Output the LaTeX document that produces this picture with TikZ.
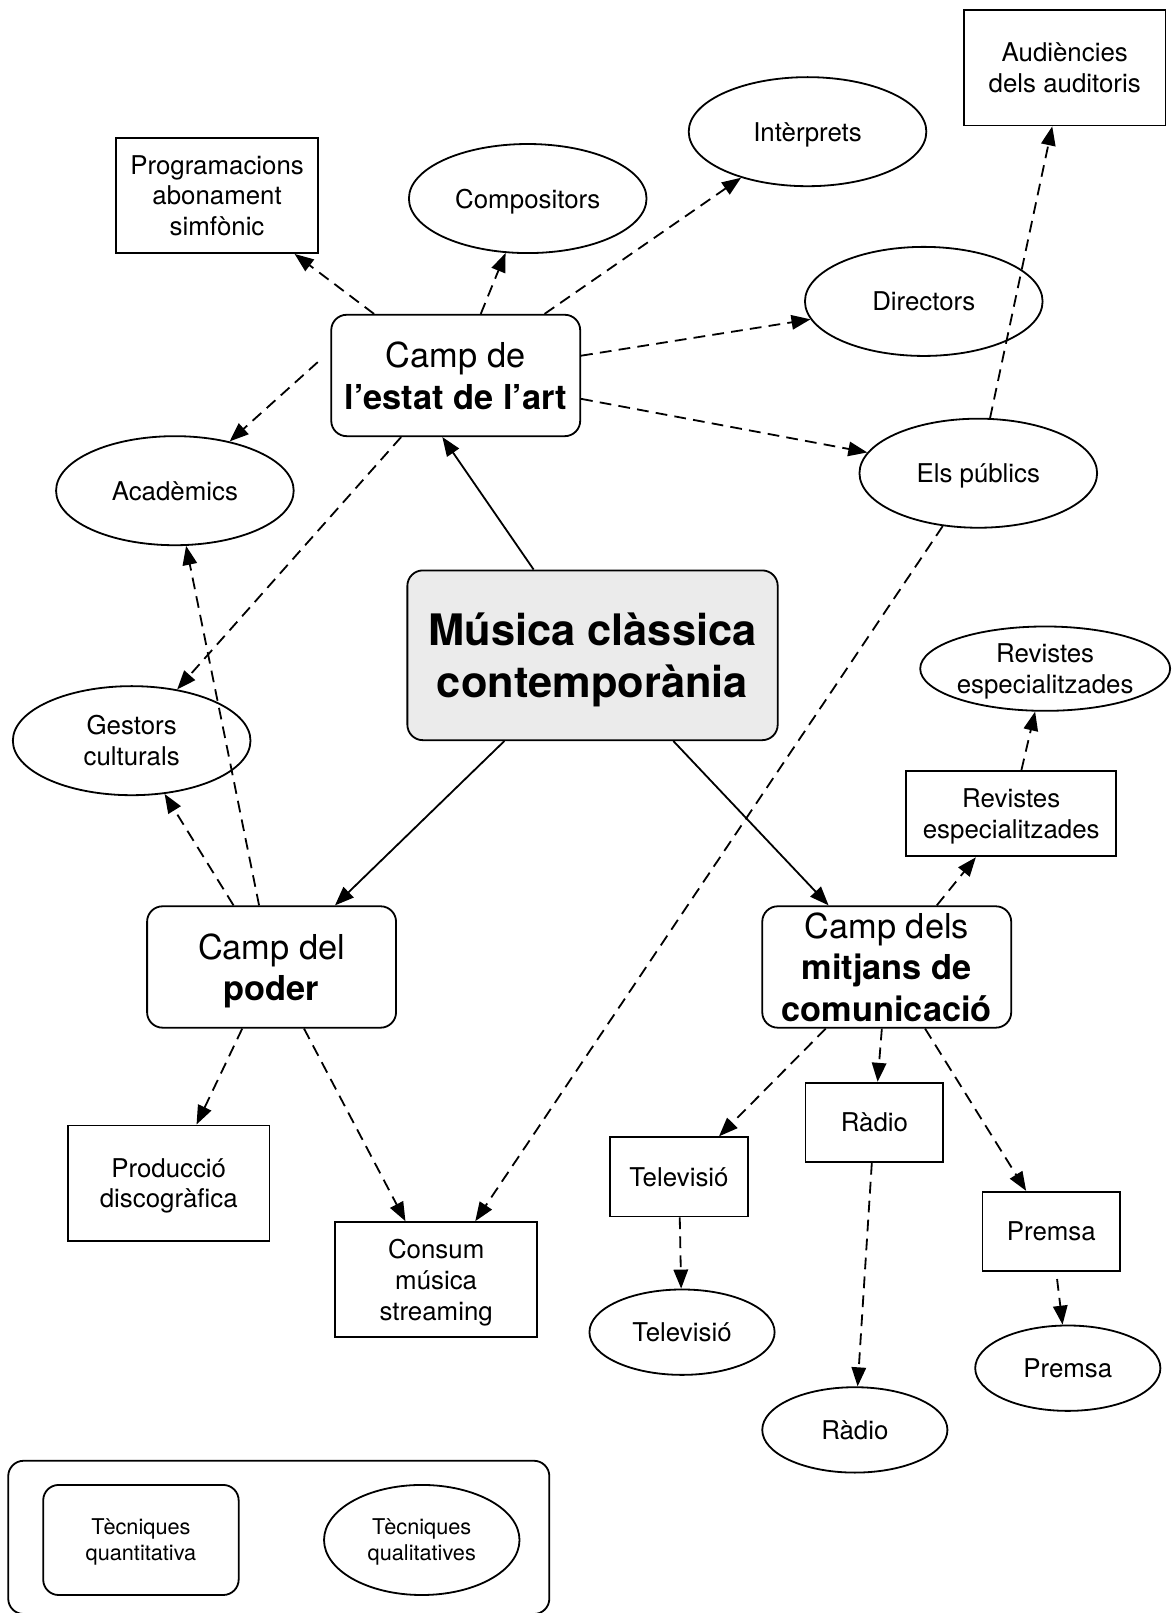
\documentclass[tikz,border=0pt]{standalone}
\usepackage{fontspec}
\setmainfont{TeX Gyre Heros}
\usepackage{tikz}
\usetikzlibrary{arrows.meta}
\usetikzlibrary{shapes.geometric}
\definecolor{fonsgris}{gray}{0.92}
\tikzset{tx/.style={font=\fontsize{14.3}{17}\selectfont, align=center, text depth=0pt}}
\tikzset{tl/.style={font=\fontsize{12}{14.4}\selectfont, align=center, text depth=0pt}}
\tikzset{bx/.style={tx, draw, rectangle, line width=1pt, inner sep=0pt, minimum width=39.2mm, minimum height=22.4mm}}
\tikzset{sbx/.style={bx, minimum width=26.8mm, minimum height=15.4mm}}
\tikzset{ov/.style={tx, draw, ellipse, line width=1pt, inner sep=0pt, minimum width=46.2mm, minimum height=21.2mm}}
\tikzset{sov/.style={ov, minimum width=36mm, minimum height=16.6mm}}
\tikzset{cp/.style={draw, rounded corners=3mm, line width=1pt, inner sep=0pt, align=center, text depth=0pt, font=\fontsize{19}{23}\selectfont, minimum width=48.4mm, minimum height=23.6mm}}
\tikzset{ar/.style={line width=1pt, -{Triangle[length=10.5pt,width=8pt]}}}
\tikzset{ds/.style={ar, dash pattern=on 6.5pt off 4pt}}

\begin{document}
\begin{tikzpicture}[x=0.2mm,y=-0.2mm]
        \useasboundingbox (0,0) rectangle (1139,1568);
        \node [bx] (prog) at (211,190) {Programacions\\abonament\\simfònic};
        \node [ov] (comp) at (513,193) {Compositors};
        \node [ov] (interp) at (785,128) {Intèrprets};
        \node [bx] (aud) at (1035,66) {Audiències\\dels auditoris};
        \node [ov] (dir) at (898,293) {Directors};
        \node [ov] (acad) at (170,477) {Acadèmics};
        \node [ov] (gest) at (128,720) {Gestors\\culturals};
        \node [bx] (prod) at (164,1150) {Producció\\discogràfica};
        \node [bx] (cons) at (424,1244) {Consum\\música\\streaming};
        \node [ov, minimum width=48.4mm, minimum height=16.4mm] (revE) at (1016,650) {Revistes\\especialitzades};
        \node [sov] (tvE) at (663,1295) {Televisió};
        \node [sov] (radE) at (831,1390) {Ràdio};
        \node [sov] (premE) at (1038,1330) {Premsa};
        \node [bx, minimum width=40.8mm, minimum height=16.6mm] (revR) at (983,791) {Revistes\\especialitzades}
          edge [ds] (revE);
        \node [sbx] (tvR) at (660,1144) {Televisió}
          edge [ds] (tvE);
        \node [sbx] (radR) at (850,1091) {Ràdio}
          edge [ds] (radE);
        \node [sbx] (premR) at (1022,1197) {Premsa}
          edge [ds, shorten <=1.4mm] (premE);
        \node [ov] (pub) at (951,460) {Els públics}
          edge [ds] (aud)
          edge [ds] (cons);
        \node [cp] (estat) at (443,365) {Camp de\\\textbf{l’estat de l’art}}
          edge [ds] (prog)
          edge [ds] (comp)
          edge [ds] (interp)
          edge [ds] (dir)
          edge [ds] (pub)
          edge [ds] (gest);
        \draw [ds, shorten <=3.3mm] ([yshift=4.8mm]estat.west) -- (acad);
        \node [cp] (poder) at (264,940) {Camp del\\\textbf{poder}}
          edge [ds] (acad)
          edge [ds] (gest)
          edge [ds] (prod)
          edge [ds] (cons);
        \node [cp] (mitj) at (862,940) {Camp dels\\\textbf{mitjans de}\\\textbf{comunicació}}
          edge [ds] (revR)
          edge [ds] (tvR)
          edge [ds] (radR)
          edge [ds] (premR);
        \node [cp, fill=fonsgris, font=\fontsize{24}{29}\selectfont\bfseries, minimum width=72mm, minimum height=33mm] (mus) at (576,637) {Música clàssica\\contemporània}
          edge [ar] ([xshift=-2.6mm]estat.south)
          edge [ar] (poder)
          edge [ar] (mitj);
        \node [draw, rounded corners=3mm, line width=1pt, minimum width=105.2mm, minimum height=29.8mm] (leg) at (271,1494.5) {};
        \node [cp, tl, minimum width=38mm, minimum height=21.4mm] (quant) at (137,1497) {Tècniques\\quantitativa};
        \node [ov, tl, minimum width=38mm, minimum height=21.4mm] (qual) at (410,1497) {Tècniques\\qualitatives};
\end{tikzpicture}
\end{document}
